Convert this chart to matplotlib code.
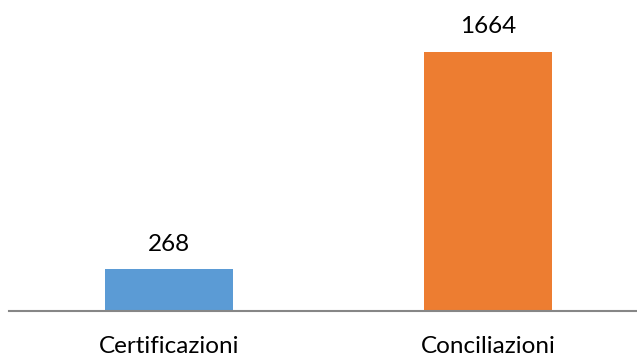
import matplotlib.pyplot as plt

categorie = ["Certificazioni", "Conciliazioni"]
valori = [268, 1664]
colori = ["#5B9BD5", "#ED7D31"]

plt.rcParams['font.family'] = ['Lato', 'DejaVu Sans']

fig = plt.figure(figsize=(6.37, 3.56), dpi=100)
ax = fig.add_axes([9/637, 45/356, 628/637, 311/356])

pos = range(len(categorie))
barre = ax.bar(pos, valori, width=0.40, color=colori)
for b, v in zip(barre, valori):
    ax.annotate(str(v), (b.get_x() + b.get_width()/2, v), xytext=(0, 10.5),
                textcoords="offset points", ha="center", va="bottom",
                fontsize=17.5, color="#000000")

ax.set_xlim(-0.502, 1.467)
ax.set_ylim(0, 1998)
ax.set_xticks(list(pos))
ax.set_xticklabels(categorie, fontsize=17.5)
ax.tick_params(axis="x", length=0, pad=18)
ax.set_yticks([])
for s in ["top", "right", "left"]:
    ax.spines[s].set_visible(False)
ax.spines["bottom"].set_color("#868686")
ax.spines["bottom"].set_linewidth(1.5)

fig.savefig("out.png", dpi=100)
